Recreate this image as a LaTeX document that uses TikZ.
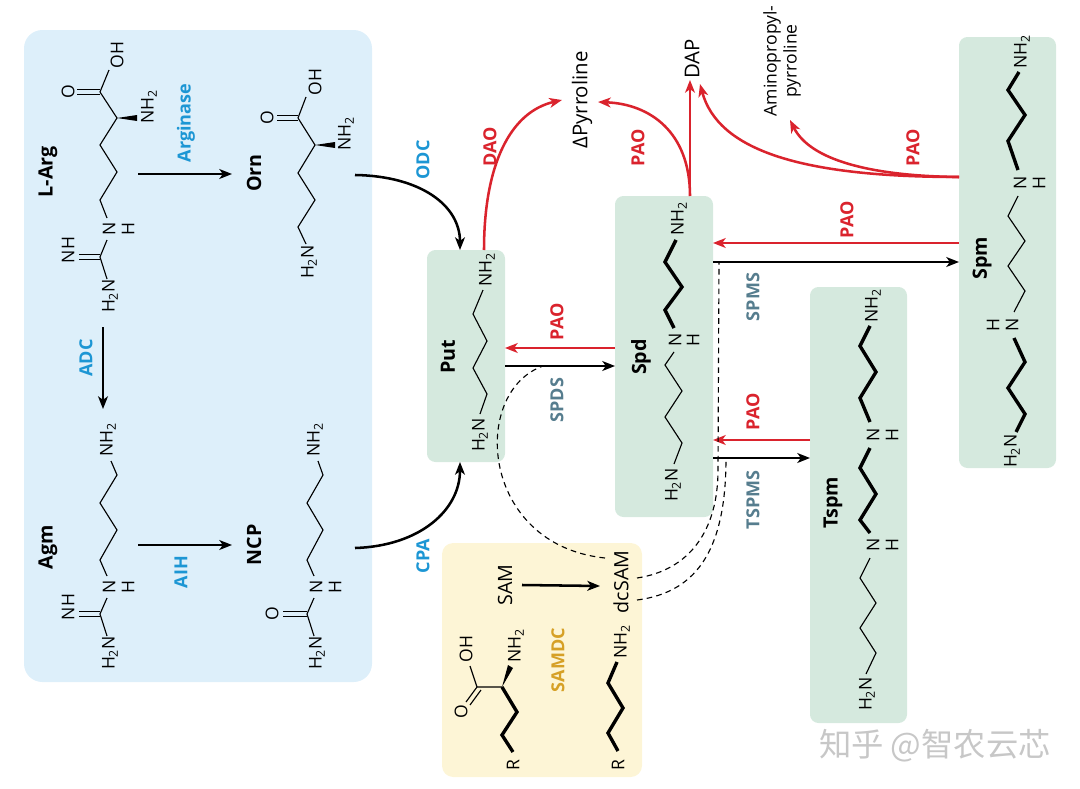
\documentclass[tikz,border=0pt]{standalone}
\usepackage{fontspec}
\setmainfont{Open Sans}
\newfontfamily\cjkfont{Noto Sans CJK SC}
\usetikzlibrary{arrows.meta,positioning}

\definecolor{preblue}{RGB}{221,239,250}
\definecolor{pagreen}{RGB}{213,233,222}
\definecolor{samyellow}{RGB}{253,245,214}
\definecolor{enzblue}{RGB}{28,150,212}
\definecolor{oxred}{RGB}{218,35,45}
\definecolor{synteal}{RGB}{86,125,142}
\definecolor{samgold}{RGB}{214,160,38}

\newcommand{\pxl}{0.025cm}

\tikzset{
  cpd/.style={font=\bfseries\fontsize{14}{16}\selectfont, rotate=90, inner sep=0pt},
  enz/.style={font=\bfseries\fontsize{12.8}{15}\selectfont, rotate=90, inner sep=0pt, text=enzblue},
  atom/.style={font=\fontsize{12.5}{14}\selectfont, rotate=90, inner sep=0pt},
  prod/.style={font=\fontsize{14.5}{16.5}\selectfont, rotate=90, inner sep=0pt},
  bond/.style={line width=0.8pt},
  bbond/.style={line width=2.4pt, line join=miter},
  rxn/.style={line width=1.8pt, ->},
  oxi/.style={rxn, oxred},
  dcs/.style={line width=0.8pt, dash pattern=on 4pt off 3pt},
  pbox/.style={fill=pagreen, rounded corners=6pt, inner sep=0pt, outer sep=0pt},
}

\begin{document}
\begin{tikzpicture}[x=\pxl, y=-\pxl, >={Stealth[length=9pt,width=7pt,inset=2.5pt]}]
    \useasboundingbox (0,0) rectangle (1080,789);

    % Background boxes
    \node[pbox, fill=preblue, rounded corners=13pt, minimum width=348*\pxl, minimum height=652*\pxl] (pre) at (198,356) {};
    \node[pbox, minimum width=78*\pxl, minimum height=212*\pxl] (putbox) at (466,356) {};
    \node[pbox, minimum width=98*\pxl, minimum height=321*\pxl] (spdbox) at (664,356.5) {};
    \node[pbox, minimum width=97*\pxl, minimum height=436*\pxl] (tspmbox) at (858.5,505) {};
    \node[pbox, minimum width=97*\pxl, minimum height=431*\pxl] (spmbox) at (1007.5,252.5) {};
    \node[pbox, fill=samyellow, rounded corners=8pt, minimum width=200*\pxl, minimum height=234*\pxl] (sambox) at (542,660) {};

    % L-Arg
    \draw[bond] (100,92) -- (109,70) (100,92) -- (117,118) -- (100,145) -- (117,172) -- (100,200) -- (107,218)
        (107,240) -- (100,257) -- (107,279);
    \draw[bond] (77,89.5) -- (100,89.5) (77,94.5) -- (100,94.5) (79,254.5) -- (100,254.5) (79,259.5) -- (100,259.5);
    \fill (117,118) -- (137,115) -- (137,121) -- cycle;
    \node[atom] (argO) at (68,92) {O};
    \node[atom] (argOH) at (117,55) {OH};
    \node[atom] (argNa) at (149,107) {NH\textsubscript{2}};
    \node[atom] (argN) at (109,229) {N};
    \node[atom] (argH) at (128,229) {H};
    \node[atom] (argNH) at (68,250) {NH};
    \node[atom] (argNb) at (110,296) {H\textsubscript{2}N};

    % Orn
    \draw[bond] (298,118) -- (306,97) (298,118) -- (315,145) -- (298,173) -- (315,200) -- (298,227) -- (306,244);
    \draw[bond] (277,115.5) -- (298,115.5) (277,120.5) -- (298,120.5);
    \fill (315,145) -- (335,142) -- (335,148) -- cycle;
    \node[atom] (ornO) at (267,118) {O};
    \node[atom] (ornOH) at (315,82) {OH};
    \node[atom] (ornNa) at (346,134) {NH\textsubscript{2}};
    \node[atom] (ornNb) at (309,262) {H\textsubscript{2}N};

    % Agm
    \draw[bond] (111,461) -- (117,475) -- (100,503) -- (117,530) -- (100,560) -- (107,576)
        (107,598) -- (100,614) -- (107,636);
    \draw[bond] (79,611.5) -- (100,611.5) (79,616.5) -- (100,616.5);
    \node[atom] (agmNa) at (108,440) {NH\textsubscript{2}};
    \node[atom] (agmN) at (109,587) {N};
    \node[atom] (agmH) at (128,587) {H};
    \node[atom] (agmNH) at (68,607) {NH};
    \node[atom] (agmNb) at (110,653) {H\textsubscript{2}N};

    % NCP
    \draw[bond] (318,461) -- (323,475) -- (307,503) -- (323,530) -- (307,560) -- (314,576)
        (314,598) -- (307,614) -- (314,636);
    \draw[bond] (283,611.5) -- (307,611.5) (283,616.5) -- (307,616.5);
    \node[atom] (ncpNa) at (315,440) {NH\textsubscript{2}};
    \node[atom] (ncpN) at (316,587) {N};
    \node[atom] (ncpH) at (335,587) {H};
    \node[atom] (ncpO) at (272,614) {O};
    \node[atom] (ncpNb) at (317,653) {H\textsubscript{2}N};

    % Put
    \draw[bond] (483,290) -- (473,314) -- (487,341) -- (473,368) -- (487,394) -- (480,414);
    \node[atom] (putNa) at (487,270) {NH\textsubscript{2}};
    \node[atom] (putNb) at (480,435) {H\textsubscript{2}N};

    % Spd
    \draw[bbond] (676,240) -- (665,262) -- (682,287) -- (665,310) -- (674,328);
    \draw[bond] (674,352) -- (665,365) -- (682,391) -- (665,417) -- (682,443) -- (674,464);
    \node[atom] (spdNa) at (679,219) {NH\textsubscript{2}};
    \node[atom] (spdN) at (675,340) {N};
    \node[atom] (spdH) at (693,340) {H};
    \node[atom] (spdNb) at (673,485) {H\textsubscript{2}N};

    % Spm
    \draw[bbond] (1019,72) -- (1008,90) -- (1025,115) -- (1008,141) -- (1018,170);
    \draw[bond] (1018,196) -- (1008,216) -- (1025,241) -- (1008,266) -- (1025,291) -- (1014,312);
    \draw[bbond] (1014,338) -- (1025,362) -- (1008,388) -- (1025,414) -- (1016,432);
    \node[atom] (spmNa) at (1022,52) {NH\textsubscript{2}};
    \node[atom] (spmN) at (1020,183) {N};
    \node[atom] (spmH) at (1039,183) {H};
    \node[atom] (spmNn) at (1012,325) {N};
    \node[atom] (spmHh) at (993,325) {H};
    \node[atom] (spmNb) at (1012,451) {H\textsubscript{2}N};

    % Tspm
    \draw[bbond] (870,326) -- (860,346) -- (876,372) -- (860,398) -- (870,422);
    \draw[bbond] (870,448) -- (860,468) -- (876,494) -- (860,520) -- (870,533);
    \draw[bond] (870,558) -- (860,578) -- (876,603) -- (860,628) -- (876,653) -- (866,674);
    \node[atom] (tspNa) at (873,306) {NH\textsubscript{2}};
    \node[atom] (tspN) at (873,435) {N};
    \node[atom] (tspH) at (892,435) {H};
    \node[atom] (tspNn) at (873,545) {N};
    \node[atom] (tspHh) at (892,545) {H};
    \node[atom] (tspNb) at (867,694) {H\textsubscript{2}N};

    % SAM and dcSAM
    \draw[bond] (477,687) -- (502,687) (477,687) -- (470,666) (477,687) -- (466,702) (481,690) -- (470,705);
    \fill (502,687) -- (508,665) -- (513,668) -- cycle;
    \draw[bbond] (502,687) -- (517,712) -- (502,735) -- (513,752);
    \node[atom] (samO) at (461,712) {O};
    \node[atom] (samOH) at (466,649) {OH};
    \node[atom] (samNa) at (516,646) {NH\textsubscript{2}};
    \node[atom] (samR) at (513,765) {R};
    \draw[bbond] (617,662) -- (608,683) -- (623,708) -- (608,733) -- (618,751);
    \node[atom] (dcsNa) at (622,642) {NH\textsubscript{2}};
    \node[atom] (dcsR) at (618,765) {R};
    \node[prod, font=\fontsize{14}{16}\selectfont] (sam) at (505,585) {SAM};
    \node[prod, font=\fontsize{14}{16}\selectfont] (dcsam) at (621,582) {dcSAM};
    \draw[rxn] (sam) ++(17,0) coordinate (samE) -- (600,586) coordinate (dcsamW);

    % Compound names
    \foreach \nm/\x/\y/\txt in {larg/48/172/L-Arg, orn/254/173/Orn, agm/48/547/Agm, ncp/254/545/NCP,
        put/448/357/Put, spd/641/357/Spd, tspm/833/503/Tspm, spm/982/258/Spm}
        \node[cpd] (\nm) at (\x,\y) {\txt};

    % Enzymes
    \foreach \nm/\x/\y/\txt in {arginase/186/123/Arginase, adc/86/358/ADC, aih/181/572/AIH,
        odc/423/160/ODC, cpa/423/556/CPA}
        \node[enz] (\nm) at (\x,\y) {\txt};
    \foreach \nm/\x/\y in {paoA/638/148, paoB/913/148, paoC/557/322, paoD/847/220, paoE/753/412}
        \node[enz, text=oxred] (\nm) at (\x,\y) {PAO};
    \node[enz, text=oxred] (dao) at (490,147) {DAO};
    \foreach \nm/\x/\y/\txt in {spds/557/400/SPDS, spms/753/297/SPMS, tspms/753/500/TSPMS}
        \node[enz, text=synteal] (\nm) at (\x,\y) {\txt};
    \node[enz, text=samgold] (samdc) at (558,660) {SAMDC};

    % Oxidation products
    \node[prod] (pyr) at (582,100) {ΔPyrroline};
    \node[prod] (dap) at (692,59) {DAP};
    \node[prod, font=\fontsize{12.5}{14.2}\selectfont, align=center] (appyr) at (782,61) {Aminopropyl-\\pyrroline};
    \coordinate (pyrL) at (562,100);
    \coordinate (pyrR) at (598,102);
    \coordinate (dapB) at (690,80);
    \coordinate (dapR) at (700,84);
    \coordinate (appB) at (790,120);

    % Biosynthesis arrows
    \coordinate (argS) at (138,174); \coordinate (argE) at (232,174);
    \draw[rxn] (argS) -- (argE);
    \coordinate (adcS) at (103,327); \coordinate (adcE) at (103,409);
    \draw[rxn] (adcS) -- (adcE);
    \coordinate (aihS) at (138,545); \coordinate (aihE) at (232,545);
    \draw[rxn] (aihS) -- (aihE);
    \coordinate (ornE) at (355,175);
    \draw[rxn] (ornE) .. controls (420,176) and (460,205) .. (putbox.north -| 460,0);
    \coordinate (ncpE) at (355,548);
    \draw[rxn] (ncpE) .. controls (420,546) and (460,510) .. (putbox.south -| 460,0);

    % Interconversion arrows
    \draw[oxi] (spdbox.west |- 0,348) -- (putbox.east |- 0,348);
    \draw[rxn] (putbox.east |- 0,366) -- (spdbox.west |- 0,366);
    \draw[oxi] (spmbox.west |- 0,243) -- (spdbox.east |- 0,243);
    \draw[rxn] (spdbox.east |- 0,262) -- (spmbox.west |- 0,262);
    \draw[oxi] (tspmbox.west |- 0,440) -- (spdbox.east |- 0,440);
    \draw[rxn] (spdbox.east |- 0,458) -- (tspmbox.west |- 0,458);

    % Back-conversion / terminal catabolism
    \draw[oxi] (484,0 |- putbox.north) .. controls (484,165) and (510,112) .. (pyrL);
    \draw[oxi] (690,0 |- spdbox.north) .. controls (690,132) and (650,104) .. (pyrR);
    \draw[oxi] (690,0 |- spdbox.north) -- (dapB);
    \draw[oxi] (spmbox.west |- 0,177) .. controls (800,177) and (718,150) .. (dapR);
    \draw[oxi] (spmbox.west |- 0,177) .. controls (870,176) and (810,160) .. (appB);

    % dcSAM as aminopropyl donor
    \coordinate (dcsA) at (605,558); \coordinate (spdsM) at (543,366);
    \draw[dcs] (dcsA) .. controls (480,545) and (470,392) .. (spdsM);
    \coordinate (dcsB) at (637,578); \coordinate (spmsS) at (719,262);
    \draw[dcs] (dcsB) .. controls (690,570) and (718,530) .. (718,470) -- (spmsS);
    \coordinate (dcsC) at (637,600); \coordinate (tspmsS) at (726,458);
    \draw[dcs] (dcsC) .. controls (700,592) and (726,545) .. (tspmsS);

    \node[font=\cjkfont\fontsize{23}{25}\selectfont, text=black!22] (wm) at (935,746) {知乎 @智农云芯};
\end{tikzpicture}
\end{document}
